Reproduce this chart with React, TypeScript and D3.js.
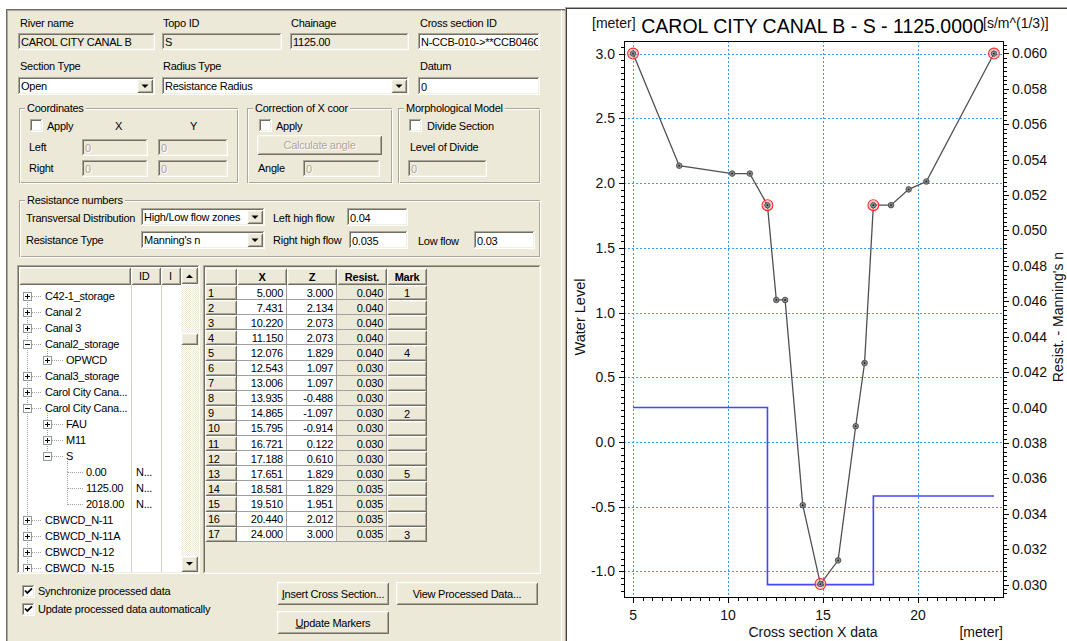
import React from 'react';
import * as d3 from 'd3';

// ---------------- data ----------------
const riverName = 'CAROL CITY CANAL B';
const topoId = 'S';
const chainage = 1125.0;
const crossSectionId = 'N-CCB-010->**CCB046C';
const sectionType = 'Open';
const radiusType = 'Resistance Radius';
const datum = '0';
const transversalDistribution = 'High/Low flow zones';
const resistanceType = "Manning's n";
const leftHighFlow = '0.04';
const rightHighFlow = '0.035';
const lowFlow = '0.03';

const pointX = [5.0, 7.431, 10.22, 11.15, 12.076, 12.543, 13.006, 13.935, 14.865, 15.795, 16.721, 17.188, 17.651, 18.581, 19.51, 20.44, 24.0];
const pointZ = [3.0, 2.134, 2.073, 2.073, 1.829, 1.097, 1.097, -0.488, -1.097, -0.914, 0.122, 0.61, 1.829, 1.829, 1.951, 2.012, 3.0];
const pointResist = [0.04, 0.04, 0.04, 0.04, 0.04, 0.03, 0.03, 0.03, 0.03, 0.03, 0.03, 0.03, 0.03, 0.035, 0.035, 0.035, 0.035];
const pointMarks = ['1', '', '', '', '4', '', '', '', '2', '', '', '', '5', '', '', '', '3'];

const levelTicks = [-1.0, -0.5, 0.0, 0.5, 1.0, 1.5, 2.0, 2.5, 3.0];
const chainTicks = [5, 10, 15, 20];
const resistTicks = [0.03, 0.032, 0.034, 0.036, 0.038, 0.04, 0.042, 0.044, 0.046, 0.048, 0.05, 0.052, 0.054, 0.056, 0.058, 0.06];

const gridHeaders = ['X', 'Z', 'Resist.', 'Mark'];

const treeLabels = ['C42-1_storage', 'Canal 2', 'Canal 3', 'Canal2_storage', 'OPWCD', 'Canal3_storage', 'Carol City Cana...', 'Carol City Cana...', 'FAU', 'M11', 'S', '0.00', '1125.00', '2018.00', 'CBWCD_N-11', 'CBWCD_N-11A', 'CBWCD_N-12', 'CBWCD_N-15'];
const treeLevels = [0, 0, 0, 0, 1, 0, 0, 0, 1, 1, 1, 2, 2, 2, 0, 0, 0, 0];
const treeStates = ['+', '+', '+', '-', '+', '+', '+', '-', '+', '+', '-', '', '', '', '+', '+', '+', '+'];
const treeIds = ['', '', '', '', '', '', '', '', '', '', '', 'N...', 'N...', 'N...', '', '', '', ''];

// ---------------- helpers ----------------
const BG = '#ECE9D8';
const UI = "'Liberation Sans', Arial, Helvetica, sans-serif";
const LS = -0.25;

let measureCtx: CanvasRenderingContext2D | null = null;
function measure(s: string, size = 11, weight = 'normal') {
  if (typeof document === 'undefined') return s.length * 5.3;
  if (!measureCtx) measureCtx = document.createElement('canvas').getContext('2d');
  if (!measureCtx) return s.length * 5.3;
  measureCtx.font = `${weight} ${size}px ${UI}`;
  return measureCtx.measureText(s).width + LS * s.length;
}

function T({ x, y, children, anchor = 'start', size = 11, color = '#000', weight = 400 }: any) {
  return (
    <text x={x} y={y} textAnchor={anchor} fontSize={size} fill={color} fontWeight={weight} fontFamily={UI} letterSpacing={LS}>
      {children}
    </text>
  );
}

function DT({ x, y, children, anchor = 'start' }: any) {
  return (
    <g>
      <T x={x + 1} y={y + 1} anchor={anchor} color="#fff">{children}</T>
      <T x={x} y={y} anchor={anchor} color="#ACA899">{children}</T>
    </g>
  );
}

function Sunken({ x, y, w, h, fill = '#fff' }: any) {
  return (
    <g shapeRendering="crispEdges">
      <rect x={x} y={y} width={w} height={h} fill={fill} />
      <path d={`M${x + 0.5},${y + h - 1}V${y + 0.5}H${x + w - 1}`} stroke="#ACA899" fill="none" />
      <path d={`M${x + 1.5},${y + h - 2}V${y + 1.5}H${x + w - 2}`} stroke="#716F64" fill="none" />
      <path d={`M${x + 0.5},${y + h - 0.5}H${x + w - 0.5}V${y + 0.5}`} stroke="#fff" fill="none" />
      <path d={`M${x + 1.5},${y + h - 1.5}H${x + w - 1.5}V${y + 1.5}`} stroke="#F1EFE2" fill="none" />
    </g>
  );
}

function Raised({ x, y, w, h, fill = BG }: any) {
  return (
    <g shapeRendering="crispEdges">
      <rect x={x} y={y} width={w} height={h} fill={fill} />
      <path d={`M${x + 0.5},${y + h - 1}V${y + 0.5}H${x + w - 1}`} stroke="#fff" fill="none" />
      <path d={`M${x + 1.5},${y + h - 2}V${y + 1.5}H${x + w - 2}`} stroke="#F1EFE2" fill="none" />
      <path d={`M${x + 0.5},${y + h - 0.5}H${x + w - 0.5}V${y + 0.5}`} stroke="#716F64" fill="none" />
      <path d={`M${x + 1.5},${y + h - 1.5}H${x + w - 1.5}V${y + 1.5}`} stroke="#ACA899" fill="none" />
    </g>
  );
}

function TextBox({ x, y, w, h, text, disabled = false, readOnly = false, id }: any) {
  const cid = id || `tb${x}_${y}`;
  return (
    <g>
      <Sunken x={x} y={y} w={w} h={h} fill={disabled || readOnly ? BG : '#fff'} />
      <clipPath id={cid}>
        <rect x={x + 2} y={y + 2} width={w - 4} height={h - 4} />
      </clipPath>
      <g clipPath={`url(#${cid})`}>
        {disabled ? <DT x={x + 3} y={y + h - 4.5}>{text}</DT> : <T x={x + 3} y={y + h - 4.5}>{text}</T>}
      </g>
    </g>
  );
}

function Combo({ x, y, w, h, text }: any) {
  const bx = x + w - 18;
  const cx = bx + 8;
  const cy = y + h / 2;
  return (
    <g>
      <Sunken x={x} y={y} w={w} h={h} fill="#fff" />
      <T x={x + 3} y={y + h - 5}>{text}</T>
      <Raised x={bx} y={y + 2} w={16} h={h - 4} />
      <path d={`M${cx - 3.5},${cy - 1.5}h7l-3.5,3.5z`} fill="#000" />
    </g>
  );
}

function Check({ x, y, checked = false }: any) {
  return (
    <g>
      <Sunken x={x} y={y} w={13} h={13} fill="#fff" />
      {checked && (
        <path d={`M${x + 3},${y + 5.5}L${x + 5.3},${y + 8}L${x + 10},${y + 3.3}`} stroke="#000" strokeWidth={1.8} fill="none" />
      )}
    </g>
  );
}

function Group({ x, y, w, h, label }: any) {
  const tw = measure(label) + 4;
  return (
    <g>
      <g shapeRendering="crispEdges">
        <rect x={x + 0.5} y={y + 0.5} width={w - 2} height={h - 2} fill="none" stroke="#ACA899" />
        <rect x={x + 1.5} y={y + 1.5} width={w - 2} height={h - 2} fill="none" stroke="#fff" />
        <rect x={x + 6} y={y - 6} width={tw} height={12} fill={BG} />
      </g>
      <T x={x + 8} y={y + 4}>{label}</T>
    </g>
  );
}

function Button({ x, y, w, h, children, disabled = false }: any) {
  return (
    <g>
      <Raised x={x} y={y} w={w} h={h} />
      {disabled ? (
        <DT x={x + w / 2} y={y + h / 2 + 4} anchor="middle">{children}</DT>
      ) : (
        <T x={x + w / 2} y={y + h / 2 + 4} anchor="middle">{children}</T>
      )}
    </g>
  );
}

// ---------------- left panel ----------------
function Tree() {
  const x0 = 17, y0 = 265, w = 183, h = 309;
  const rowY = (i: number) => 296 + i * 16;
  const boxX = [27, 47, 67];
  const textX = [45, 66, 86];
  const lines: any[] = [];
  treeLevels.forEach((l, i) => {
    let j = i - 1;
    while (j >= 0 && treeLevels[j] > l) j--;
    const bx = boxX[l] + 0.5;
    if (j >= 0) {
      const y1 = treeLevels[j] === l ? rowY(j) : rowY(j) + 5;
      lines.push(<line key={`v${i}`} x1={bx} x2={bx} y1={y1} y2={rowY(i) + 0.5} />);
    }
    lines.push(<line key={`h${i}`} x1={bx} x2={textX[l] - 3} y1={rowY(i) + 0.5} y2={rowY(i) + 0.5} />);
  });
  return (
    <g>
      <defs>
        <pattern id="chk" width={2} height={2} patternUnits="userSpaceOnUse">
          <rect width={2} height={2} fill="#fff" />
          <rect width={1} height={1} fill={BG} />
          <rect x={1} y={1} width={1} height={1} fill={BG} />
        </pattern>
        <clipPath id="treeclip">
          <rect x={x0 + 2} y={285} width={162} height={y0 + h - 2 - 285} />
        </clipPath>
      </defs>
      <Sunken x={x0} y={y0} w={w} h={h} fill="#fff" />
      <g shapeRendering="crispEdges" stroke="#D4D0C8">
        <line x1={131.5} x2={131.5} y1={285} y2={y0 + h - 2} />
        <line x1={161.5} x2={161.5} y1={285} y2={y0 + h - 2} />
      </g>
      <Raised x={19} y={267} w={112} h={18} />
      <Raised x={131} y={267} w={30} h={18} />
      <Raised x={161} y={267} w={20} h={18} />
      <T x={139} y={280}>ID</T>
      <T x={169} y={280}>I</T>
      {/* scrollbar */}
      <rect x={181} y={285} width={17} height={271} fill="url(#chk)" />
      <Raised x={181} y={267} w={17} h={17} />
      <path d="M186,278h7l-3.5,-3.5z" fill="#000" />
      <Raised x={181} y={333} w={17} h={12} />
      <Raised x={181} y={556} w={17} h={16} />
      <path d="M186,562h7l-3.5,3.5z" fill="#000" />
      <g clipPath="url(#treeclip)">
        <g stroke="#A0A0A0" strokeDasharray="1 1" shapeRendering="crispEdges">{lines}</g>
        {treeLabels.map((lab, i) => {
          const l = treeLevels[i];
          const cy = rowY(i);
          const bx = boxX[l];
          const st = treeStates[i];
          return (
            <g key={i}>
              {st && (
                <g shapeRendering="crispEdges">
                  <rect x={bx - 4 + 0.5} y={cy - 4 + 0.5} width={8} height={8} fill="#fff" stroke="#919B9C" />
                  <line x1={bx - 2} x2={bx + 3} y1={cy + 0.5} y2={cy + 0.5} stroke="#000" />
                  {st === '+' && <line x1={bx + 0.5} x2={bx + 0.5} y1={cy - 2} y2={cy + 3} stroke="#000" />}
                </g>
              )}
              <T x={textX[l]} y={cy + 4}>{lab}</T>
              {treeIds[i] && <T x={136} y={cy + 4}>{treeIds[i]}</T>}
            </g>
          );
        })}
      </g>
    </g>
  );
}

function Grid() {
  const cols = [
    { x: 237, w: 50 },
    { x: 287, w: 50 },
    { x: 337, w: 50 },
    { x: 387, w: 40 },
  ];
  const top = 285;
  const rh = 15.1;
  return (
    <g>
      <Sunken x={203} y={265} w={338} h={309} fill={BG} />
      <Raised x={205} y={268} w={32} h={17} />
      {gridHeaders.map((hd, i) => (
        <g key={hd}>
          <Raised x={cols[i].x} y={268} w={cols[i].w} h={17} />
          <T x={cols[i].x + cols[i].w / 2} y={281} anchor="middle" weight={700}>{hd}</T>
        </g>
      ))}
      {pointX.map((px, r) => {
        const y = top + r * rh;
        return (
          <g key={r}>
            <Raised x={205} y={y} w={32} h={rh} />
            <T x={208} y={y + 11.5}>{String(r + 1)}</T>
            <g shapeRendering="crispEdges">
              <rect x={237} y={y} width={100} height={rh} fill="#fff" />
              <rect x={337} y={y} width={50} height={rh} fill={BG} />
              <path d={`M237,${Math.round(y + rh) - 0.5}H387M286.5,${y}V${y + rh}M336.5,${y}V${y + rh}M386.5,${y}V${y + rh}`} stroke="#A0A0A0" fill="none" />
            </g>
            <T x={283} y={y + 11.5} anchor="end">{px.toFixed(3)}</T>
            <T x={333} y={y + 11.5} anchor="end">{pointZ[r].toFixed(3)}</T>
            <T x={383} y={y + 11.5} anchor="end">{pointResist[r].toFixed(3)}</T>
            <Raised x={387} y={y} w={40} h={rh} />
            {pointMarks[r] && <T x={407} y={y + 12} anchor="middle">{pointMarks[r]}</T>}
          </g>
        );
      })}
    </g>
  );
}

function LeftPanel() {
  return (
    <g>
      <rect x={6} y={9} width={560} height={632} fill={BG} />
      <g shapeRendering="crispEdges">
        <path d="M6.5,641V9.5H566" stroke="#716F64" fill="none" />
        <path d="M7.5,641V10.5H566" stroke="#ACA899" fill="none" />
        <path d="M561.5,10V641" stroke="#fff" fill="none" />
      </g>
      {/* row 1 */}
      <T x={20} y={27}>River name</T>
      <T x={163} y={27}>Topo ID</T>
      <T x={291} y={27}>Chainage</T>
      <T x={420} y={27}>Cross section ID</T>
      <TextBox x={18} y={33} w={137} h={17} text={riverName} readOnly />
      <TextBox x={162} y={33} w={120} h={17} text={topoId} readOnly />
      <TextBox x={290} y={33} w={119} h={17} text={chainage.toFixed(2)} readOnly />
      <TextBox x={418} y={33} w={122} h={17} text={crossSectionId} />
      {/* row 2 */}
      <T x={20} y={70}>Section Type</T>
      <T x={163} y={70}>Radius Type</T>
      <T x={420} y={70}>Datum</T>
      <Combo x={18} y={77} w={137} h={18} text={sectionType} />
      <Combo x={162} y={77} w={247} h={18} text={radiusType} />
      <TextBox x={418} y={77} w={122} h={18} text={datum} />
      {/* coordinates */}
      <Group x={19} y={108} w={220} h={76} label="Coordinates" />
      <Check x={30} y={119} />
      <T x={47} y={129.5}>Apply</T>
      <T x={115} y={129.5}>X</T>
      <T x={190} y={129.5}>Y</T>
      <T x={29} y={151}>Left</T>
      <T x={29} y={172}>Right</T>
      <TextBox x={82} y={139} w={66} h={17} text="0" disabled />
      <TextBox x={158} y={139} w={70} h={17} text="0" disabled />
      <TextBox x={82} y={160} w={66} h={17} text="0" disabled />
      <TextBox x={158} y={160} w={70} h={17} text="0" disabled />
      {/* correction */}
      <Group x={247} y={108} w={146} h={76} label="Correction of X coor" />
      <Check x={259} y={119} />
      <T x={276} y={129.5}>Apply</T>
      <Button x={257} y={135} w={125} h={20} disabled>Calculate angle</Button>
      <T x={258} y={172}>Angle</T>
      <TextBox x={303} y={160} w={77} h={17} text="0" disabled />
      {/* morphological */}
      <Group x={398} y={108} w={143} h={76} label="Morphological Model" />
      <Check x={409} y={119} />
      <T x={427} y={129.5}>Divide Section</T>
      <T x={410} y={151}>Level of Divide</T>
      <TextBox x={408} y={160} w={79} h={17} text="0" disabled />
      {/* resistance */}
      <Group x={19} y={200} w={522} h={58} label="Resistance numbers" />
      <T x={26} y={222}>Transversal Distribution</T>
      <Combo x={141} y={208} w={124} h={18} text={transversalDistribution} />
      <T x={273} y={222}>Left high flow</T>
      <TextBox x={347} y={208} w={61} h={18} text={leftHighFlow} />
      <T x={26} y={244}>Resistance Type</T>
      <Combo x={141} y={231} w={124} h={18} text={resistanceType} />
      <T x={273} y={244}>Right high flow</T>
      <TextBox x={349} y={231} w={59} h={18} text={rightHighFlow} />
      <T x={418} y={245}>Low flow</T>
      <TextBox x={474} y={231} w={61} h={18} text={lowFlow} />
      <Tree />
      <Grid />
      {/* bottom */}
      <Check x={22} y={585} checked />
      <T x={38} y={595}>Synchronize processed data</T>
      <Check x={22} y={603} checked />
      <T x={38} y={613}>Update processed data automatically</T>
      <Raised x={277} y={582} w={112} h={23} />
      <text x={333} y={597.5} textAnchor="middle" fontSize={11} fontFamily={UI} letterSpacing={LS}>
        <tspan textDecoration="underline">I</tspan>nsert Cross Section...
      </text>
      <Button x={396} y={582} w={142} h={23}>View Processed Data...</Button>
      <Raised x={277} y={611} w={112} h={23} />
      <text x={333} y={626.5} textAnchor="middle" fontSize={11} fontFamily={UI} letterSpacing={LS}>
        <tspan textDecoration="underline">U</tspan>pdate Markers
      </text>
    </g>
  );
}

// ---------------- chart ----------------
function Chart() {
  const L = 624, R = 1003, TOP = 41, B = 597;
  const x = d3.scaleLinear().domain([4.525, 24.475]).range([L, R]);
  const y = d3.scaleLinear().domain([-1.197, 3.097]).range([B, TOP]);
  const r = d3.scaleLinear().domain([0.0293, 0.0607]).range([B, TOP]);
  const idx = d3.range(pointX.length);
  const profile = d3.line<number>().x((i) => x(pointX[i])).y((i) => y(pointZ[i]))(idx) || '';
  const resist = d3
    .line<number>()
    .x((i) => x(pointX[i]))
    .y((i) => r(pointResist[i]))
    .curve(d3.curveStepBefore)(idx) || '';
  const yd = y.domain();
  const rd = r.domain();
  const xd = x.domain();
  const yMinor = d3.range(-24, 63).map((k) => k * 0.05).filter((v) => v >= yd[0] && v <= yd[1]);
  const rMinor = d3.range(117, 244).map((k) => k * 0.00025).filter((v) => v >= rd[0] && v <= rd[1]);
  const xMinor = d3.range(9, 50).map((k) => k * 0.5).filter((v) => v >= xd[0] && v <= xd[1]);
  const F = "'Liberation Sans', Arial, Helvetica, sans-serif";
  const px = (v: number) => Math.round(v) + 0.5;
  const title = `${riverName} - ${topoId} - ${chainage.toFixed(4)}`;
  return (
    <g fontFamily={F}>
      <rect x={566} y={8} width={501} height={633} fill="#fff" />
      <g shapeRendering="crispEdges">
        <path d="M565.5,641V7.5H1067" stroke="#ACA899" fill="none" />
        <path d="M566.5,641V8.5H1067" stroke="#404040" fill="none" />
      </g>
      {/* grid */}
      <g stroke="#3D9BFF" strokeDasharray="2 2" shapeRendering="crispEdges">
        {chainTicks.map((t) => (
          <line key={`gx${t}`} x1={px(x(t))} x2={px(x(t))} y1={TOP} y2={B} />
        ))}
        {levelTicks.map((t) => (
          <line key={`gy${t}`} x1={L} x2={R} y1={px(y(t))} y2={px(y(t))} />
        ))}
      </g>
      {/* resistance step line */}
      <path d={resist} fill="none" stroke="#4646FF" strokeWidth={1.6} />
      {/* profile */}
      <path d={profile} fill="none" stroke="#505050" strokeWidth={1.3} />
      {idx.map((i) => (
        <g key={`p${i}`}>
          <circle cx={x(pointX[i])} cy={y(pointZ[i])} r={2.8} fill="#8A8A8A" stroke="#404040" strokeWidth={0.8} />
          <circle cx={x(pointX[i])} cy={y(pointZ[i])} r={0.9} fill="#202020" />
        </g>
      ))}
      {idx
        .filter((i) => pointMarks[i] !== '')
        .map((i) => (
          <g key={`m${i}`}>
            <circle cx={x(pointX[i])} cy={y(pointZ[i])} r={4.2} fill="none" stroke="#FFB0B0" strokeWidth={1} />
            <circle cx={x(pointX[i])} cy={y(pointZ[i])} r={5.4} fill="none" stroke="#FF2A2A" strokeWidth={1.1} />
          </g>
        ))}
      {/* frame */}
      <rect x={L + 0.5} y={TOP + 0.5} width={R - L} height={B - TOP} fill="none" stroke="#000" shapeRendering="crispEdges" />
      {/* axes ticks */}
      <g stroke="#000" shapeRendering="crispEdges">
        {yMinor.map((t, k) => (
          <line key={`ly${k}`} x1={L - 3} x2={L} y1={px(y(t))} y2={px(y(t))} />
        ))}
        {levelTicks.map((t) => (
          <line key={`lY${t}`} x1={L - 5} x2={L} y1={px(y(t))} y2={px(y(t))} />
        ))}
        {rMinor.map((t, k) => (
          <line key={`ry${k}`} x1={R} x2={R + 3.5} y1={px(r(t))} y2={px(r(t))} />
        ))}
        {resistTicks.map((t) => (
          <line key={`rY${t}`} x1={R} x2={R + 6} y1={px(r(t))} y2={px(r(t))} />
        ))}
        {xMinor.map((t, k) => (
          <line key={`bx${k}`} x1={px(x(t))} x2={px(x(t))} y1={B} y2={B + 3.5} />
        ))}
        {chainTicks.map((t) => (
          <line key={`bX${t}`} x1={px(x(t))} x2={px(x(t))} y1={B} y2={B + 6} />
        ))}
      </g>
      <g fontSize={14} fill="#111">
        {levelTicks.map((t) => (
          <text key={`tl${t}`} x={615} y={y(t) + 5} textAnchor="end">
            {t.toFixed(1)}
          </text>
        ))}
        {resistTicks.map((t) => (
          <text key={`tr${t}`} x={1012} y={r(t) + 5}>
            {t.toFixed(3)}
          </text>
        ))}
        {chainTicks.map((t) => (
          <text key={`tb${t}`} x={x(t)} y={620} textAnchor="middle">
            {t}
          </text>
        ))}
      </g>
      {/* titles */}
      <text x={812.5} y={33} fontSize={19.5} textAnchor="middle" fill="#000">
        {title}
      </text>
      <text x={592} y={28} fontSize={14} fill="#111">[meter]</text>
      <text x={983} y={28} fontSize={14} fill="#111">[s/m^(1/3)]</text>
      <text transform="translate(585,317) rotate(-90)" fontSize={14.5} textAnchor="middle" fill="#111">
        Water Level
      </text>
      <text transform="translate(1063,317) rotate(-90)" fontSize={14} textAnchor="middle" fill="#111">
        Resist. - Manning's n
      </text>
      <text x={813} y={637} fontSize={14} textAnchor="middle" fill="#111">
        Cross section X data
      </text>
      <text x={1003} y={637} fontSize={14} textAnchor="end" fill="#111">
        [meter]
      </text>
    </g>
  );
}

export default function App() {
  return (
    <div style={{ position: 'absolute', left: 0, top: 0, width: 1067, height: 641, overflow: 'hidden', background: '#fff' }}>
      <svg width={1067} height={641} viewBox="0 0 1067 641" style={{ display: 'block' }}>
        <rect width={1067} height={641} fill="#fff" />
        <LeftPanel />
        <Chart />
      </svg>
    </div>
  );
}
